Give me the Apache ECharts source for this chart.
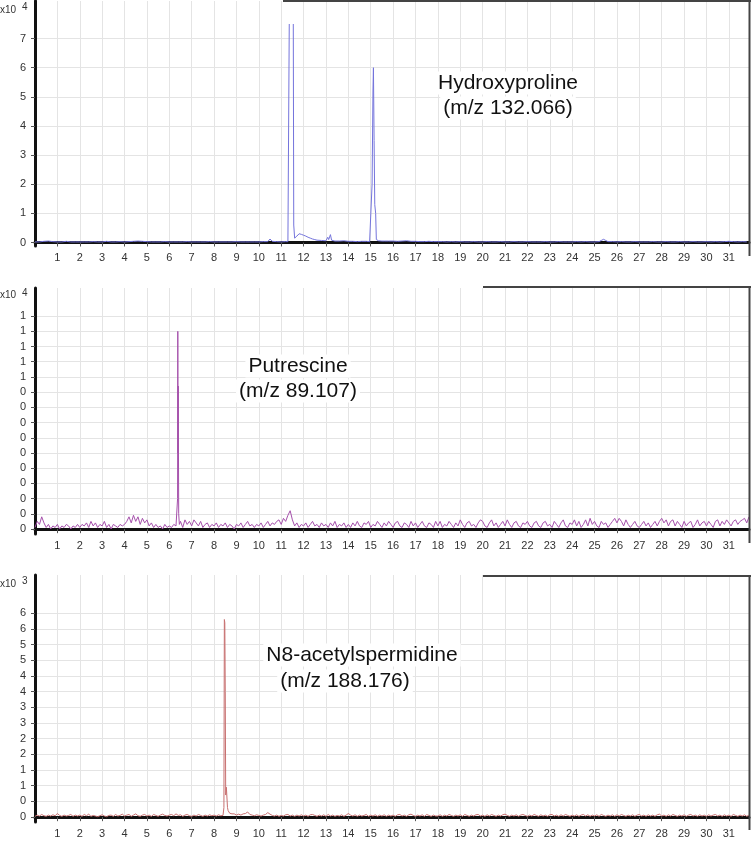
<!DOCTYPE html>
<html>
<head>
<meta charset="utf-8">
<script src="https://cdn.jsdelivr.net/npm/echarts@6/dist/echarts.min.js"></script>
<style>
html,body{margin:0;padding:0;background:#fff;}
#chart{width:751px;height:851px;}
</style>
</head>
<body>
<div id="chart"></div>
<script>
// ---------- x axis (retention time, min) ----------
const xTickValues = [1,2,3,4,5,6,7,8,9,10,11,12,13,14,15,16,17,18,19,20,21,22,23,24,25,26,27,28,29,30,31];

// ---------- Panel 1: Hydroxyproline (m/z 132.066), x10^4 ----------
const p1Step = 0.2;
const p1Base = [
0.02,0.02,0.04,0.05,0.03,0.02,0.02,0.04,0.02,0.02,0.02,0.02,0.02,0.03,0.02,0.02,0.04,0.02,0.02,0.03,
0.02,0.03,0.04,0.05,0.04,0.03,0.02,0.02,0.02,0.03,0.02,0.02,0.02,0.02,0.03,0.02,0.02,0.02,0.02,0.03,
0.02,0.02,0.02,0.02,0.02,0.03,0.02,0.02,0.02,0.02,0.02,0.03,0.03,0.03,0.03,0.02,0.03,0.03,0.03,0.03,
0.03,0.03,0.03,0.03,0.03,0.03,0.03,0.03,0.05,0.06,0.04,0.04,0.03,0.04,0.04,0.04,0.04,0.04,0.05,0.05,
0.05,0.04,0.05,0.06,0.04,0.04,0.03,0.03,0.04,0.03,0.03,0.03,0.02,0.03,0.02,0.03,0.02,0.02,0.03,0.02,
0.02,0.03,0.02,0.02,0.03,0.02,0.02,0.03,0.02,0.02,0.03,0.02,0.02,0.02,0.03,0.02,0.02,0.03,0.02,0.02,
0.02,0.03,0.02,0.03,0.02,0.02,0.03,0.03,0.03,0.03,0.02,0.03,0.02,0.02,0.03,0.02,0.02,0.02,0.03,0.02,
0.02,0.03,0.02,0.02,0.03,0.02,0.02,0.03,0.02,0.02,0.03,0.02,0.03,0.02,0.03,0.04,0.03,0.02,0.03,0.02
];
const p1PeakA = [[10.4,0.03],[10.5,0.12],[10.6,0.04]];
const p1PeakB = [[11.3,0.03],[11.34,0.05],[11.36,7.5],[11.37,'-'],[11.54,7.5],[11.56,0.6],[11.6,0.15],[11.7,0.22],[11.8,0.3],[11.9,0.28],[12.0,0.25],[12.1,0.22],[12.2,0.18],[12.3,0.15],[12.4,0.12],[12.5,0.1],[12.6,0.08],[12.8,0.07],[13.0,0.06],[13.08,0.18],[13.12,0.1],[13.2,0.27],[13.25,0.08],[13.4,0.05]];
const p1PeakC = [[14.95,0.03],[15.02,0.06],[15.06,2.0],[15.1,5.2],[15.12,6.0],[15.15,3.5],[15.18,1.3],[15.22,1.0],[15.25,0.1],[15.35,0.06],[15.5,0.05]];
const p1PeakD = [[25.2,0.03],[25.3,0.07],[25.4,0.11],[25.5,0.07],[25.6,0.03]];
const p1TickValues = [0,1,2,3,4,5,6,7];
const p1TickLabels = ['0','1','2','3','4','5','6','7'];

// ---------- Panel 2: Putrescine (m/z 89.107), x10^4 ----------
const p2Step = 0.1;
const p2Base = [
0.01,0.05,0.03,0.08,0.04,0.01,0.03,0.00,0.02,0.01,0.03,0.00,0.02,0.01,0.03,0.02,0.00,0.02,0.01,0.03,
0.01,0.03,0.02,0.04,0.01,0.05,0.02,0.04,0.01,0.03,0.02,0.05,0.01,0.03,0.00,0.03,0.02,0.01,0.03,0.02,
0.03,0.05,0.08,0.04,0.09,0.05,0.08,0.03,0.07,0.04,0.06,0.02,0.04,0.01,0.03,0.01,0.02,0.00,0.03,0.01,
0.02,0.01,0.03,0.02,0.03,0.05,0.01,0.06,0.03,0.05,0.02,0.06,0.04,0.02,0.05,0.01,0.03,0.04,0.01,0.03,
0.02,0.04,0.01,0.03,0.02,0.04,0.01,0.03,0.02,0.00,0.03,0.02,0.04,0.01,0.03,0.05,0.02,0.03,0.01,0.03,
0.02,0.04,0.01,0.03,0.05,0.02,0.04,0.03,0.05,0.06,0.03,0.07,0.05,0.09,0.12,0.06,0.02,0.04,0.01,0.03,
0.02,0.04,0.01,0.03,0.05,0.02,0.03,0.01,0.04,0.02,0.03,0.01,0.04,0.02,0.05,0.01,0.03,0.02,0.04,0.01,
0.03,0.01,0.04,0.02,0.05,0.02,0.01,0.04,0.03,0.05,0.01,0.03,0.02,0.05,0.03,0.01,0.04,0.02,0.05,0.03,
0.01,0.04,0.05,0.02,0.01,0.04,0.03,0.01,0.05,0.02,0.04,0.01,0.03,0.05,0.02,0.01,0.04,0.03,0.01,0.05,
0.02,0.05,0.01,0.03,0.02,0.05,0.03,0.01,0.04,0.02,0.06,0.03,0.01,0.04,0.05,0.02,0.03,0.01,0.04,0.06,
0.05,0.02,0.01,0.04,0.06,0.02,0.04,0.01,0.03,0.05,0.02,0.06,0.03,0.01,0.04,0.05,0.02,0.01,0.04,0.03,
0.05,0.02,0.01,0.04,0.05,0.02,0.01,0.04,0.05,0.02,0.03,0.01,0.05,0.03,0.01,0.04,0.06,0.02,0.01,0.04,
0.03,0.06,0.02,0.05,0.01,0.03,0.06,0.02,0.07,0.03,0.05,0.02,0.01,0.05,0.03,0.04,0.01,0.03,0.05,0.07,
0.04,0.07,0.05,0.02,0.06,0.03,0.01,0.03,0.05,0.02,0.01,0.03,0.05,0.02,0.04,0.01,0.03,0.05,0.02,0.05,
0.07,0.04,0.06,0.02,0.05,0.06,0.02,0.05,0.03,0.01,0.05,0.02,0.04,0.05,0.01,0.03,0.06,0.02,0.04,0.05,
0.02,0.05,0.03,0.01,0.05,0.06,0.02,0.05,0.03,0.06,0.04,0.02,0.05,0.06,0.03,0.05,0.06,0.07,0.04,0.08
];
const p2Peak = [[6.34,0.03],[6.37,0.2],[6.38,1.3],[6.39,0.5],[6.40,0.94],[6.42,0.1],[6.45,0.03]];
const p2TickValues = [0,0.1,0.2,0.3,0.4,0.5,0.6,0.7,0.8,0.9,1.0,1.1,1.2,1.3,1.4];
const p2TickLabels = ['0','0','0','0','0','0','0','0','0','0','1','1','1','1','1'];

// ---------- Panel 3: N8-acetylspermidine (m/z 188.176), x10^3 ----------
const p3Step = 0.1;
const p3Base = [
0.02,0.06,0.03,0.08,0.04,0.02,0.06,0.03,0.07,0.04,0.11,0.05,0.02,0.06,0.03,0.05,0.08,0.02,0.06,0.03,
0.06,0.02,0.08,0.04,0.09,0.02,0.05,0.03,0.01,0.04,0.07,0.03,0.01,0.05,0.06,0.02,0.08,0.03,0.05,0.09,
0.03,0.06,0.08,0.02,0.06,0.10,0.04,0.02,0.06,0.08,0.03,0.06,0.02,0.08,0.05,0.02,0.06,0.09,0.05,0.03,
0.06,0.08,0.04,0.10,0.05,0.07,0.02,0.06,0.08,0.04,0.02,0.06,0.03,0.08,0.05,0.02,0.06,0.03,0.07,0.04,
0.06,0.03,0.07,0.04,0.05,0.05,0.05,0.05,0.05,0.10,0.06,0.09,0.06,0.10,0.11,0.16,0.08,0.06,0.04,0.07,
0.05,0.03,0.06,0.08,0.14,0.09,0.05,0.03,0.06,0.02,0.05,0.03,0.07,0.08,0.03,0.06,0.02,0.06,0.03,0.07,
0.03,0.06,0.02,0.07,0.08,0.05,0.02,0.06,0.03,0.07,0.02,0.08,0.03,0.06,0.02,0.05,0.03,0.07,0.02,0.06,
0.11,0.06,0.03,0.07,0.02,0.06,0.03,0.05,0.08,0.02,0.06,0.03,0.07,0.02,0.06,0.03,0.07,0.02,0.06,0.03,
0.06,0.02,0.07,0.08,0.03,0.06,0.02,0.07,0.09,0.05,0.02,0.06,0.03,0.07,0.02,0.08,0.05,0.02,0.06,0.03,
0.03,0.07,0.02,0.06,0.03,0.08,0.05,0.02,0.06,0.03,0.07,0.02,0.08,0.05,0.02,0.06,0.03,0.07,0.08,0.03,
0.06,0.02,0.07,0.03,0.08,0.05,0.02,0.06,0.03,0.07,0.09,0.05,0.02,0.06,0.03,0.07,0.02,0.06,0.08,0.05,
0.02,0.06,0.03,0.08,0.05,0.02,0.07,0.03,0.06,0.02,0.07,0.08,0.03,0.06,0.02,0.07,0.03,0.08,0.05,0.02,
0.06,0.03,0.07,0.02,0.06,0.08,0.03,0.07,0.02,0.06,0.03,0.07,0.02,0.08,0.05,0.02,0.06,0.03,0.07,0.02,
0.07,0.03,0.08,0.05,0.02,0.06,0.03,0.07,0.02,0.06,0.08,0.03,0.06,0.02,0.07,0.03,0.06,0.02,0.07,0.09,
0.03,0.06,0.02,0.07,0.03,0.08,0.05,0.02,0.06,0.03,0.07,0.02,0.06,0.08,0.03,0.06,0.02,0.07,0.03,0.06,
0.02,0.07,0.03,0.06,0.08,0.03,0.06,0.02,0.07,0.03,0.06,0.02,0.08,0.05,0.02,0.06,0.03,0.07,0.02,0.06
];
const p3Peak = [[8.40,0.05],[8.44,0.3],[8.46,6.3],[8.48,6.2],[8.5,4.0],[8.52,0.7],[8.55,0.95],[8.58,0.9],[8.6,0.3],[8.63,0.2],[8.7,0.12],[8.8,0.1]];
const p3TickValues = [0,0.5,1,1.5,2,2.5,3,3.5,4,4.5,5,5.5,6,6.5];
const p3TickLabels = ['0','0','1','1','2','2','3','3','4','4','5','5','6','6'];

// ---------- build point lists (baseline samples + peak points) ----------
function build(base, step, peaks) {
  const pts = [];
  base.forEach((v, i) => {
    const t = +(i * step).toFixed(2);
    const inPeak = peaks.some(p => t >= p[0][0] && t <= p[p.length - 1][0]);
    if (!inPeak) pts.push([t, v]);
  });
  peaks.forEach(p => p.forEach(q => pts.push(q)));
  pts.sort((a, b) => a[0] - b[0]);
  return pts;
}
const s1 = build(p1Base, p1Step, [p1PeakA, p1PeakB, p1PeakC, p1PeakD]);
const s2 = build(p2Base, p2Step, [p2Peak]);
const s3 = build(p3Base, p3Step, [p3Peak]);

const FONT = '"Liberation Sans", Arial, sans-serif';
const gridColor = '#e4e4e4';

function xAxisFor(gi) {
  return {
    type: 'value', gridIndex: gi, min: 0, max: 31.9, interval: 1,
    axisLine: { show: true, lineStyle: { color: '#111', width: 3 } },
    axisTick: { show: true, length: 4, customValues: xTickValues, lineStyle: { color: '#555', width: 1 } },
    axisLabel: { customValues: xTickValues, color: '#333', fontSize: 11, fontFamily: FONT, margin: 6 },
    splitLine: { show: true, lineStyle: { color: gridColor, width: 1 } }
  };
}
function labelFor(values, labels) {
  return function (v) {
    for (let i = 0; i < values.length; i++) {
      if (Math.abs(values[i] - v) < 1e-6) return labels[i];
    }
    return '';
  };
}
function yAxisFor(gi, min, max, values, labels) {
  return {
    type: 'value', gridIndex: gi, min: min, max: max,
    axisLine: { show: true, lineStyle: { color: '#111', width: 3 } },
    axisTick: { show: true, length: 4, customValues: values, lineStyle: { color: '#555', width: 1 } },
    axisLabel: { customValues: values, formatter: labelFor(values, labels), color: '#333', fontSize: 11, fontFamily: FONT, margin: 9 },
    splitLine: { show: true, lineStyle: { color: gridColor, width: 1 } }
  };
}
function lineSeries(idx, data, color) {
  return {
    type: 'line', xAxisIndex: idx, yAxisIndex: idx, data: data,
    showSymbol: false, symbol: 'none', sampling: null, silent: true, animation: false,
    lineStyle: { color: color, width: 1 }
  };
}

const chart = echarts.init(document.getElementById('chart'), null, { renderer: 'canvas' });

const frameColor = '#444';
function hline(x1, x2, y) { return { type: 'line', z: 100, shape: { x1: x1, y1: y, x2: x2, y2: y }, style: { stroke: frameColor, lineWidth: 2 }, silent: true }; }
function vline(x, y1, y2) { return { type: 'line', z: 100, shape: { x1: x, y1: y1, x2: x, y2: y2 }, style: { stroke: frameColor, lineWidth: 2 }, silent: true }; }
function txt(x, y, s, size) {
  return { type: 'text', x: x, y: y, z: 90, silent: true,
    style: { text: s, fill: '#111', font: size + 'px ' + FONT, textAlign: 'center', textVerticalAlign: 'middle',
             backgroundColor: '#ffffff', padding: [1, 3] } };
}
function small(x, y, s, size) {
  return { type: 'text', x: x, y: y, silent: true,
    style: { text: s, fill: '#333', font: size + 'px ' + FONT, textAlign: 'left', textVerticalAlign: 'middle' } };
}

chart.setOption({
  animation: false,
  backgroundColor: '#ffffff',
  grid: [
    { left: 35, top: 1, width: 714, height: 245 },
    { left: 35, top: 288, width: 714, height: 246 },
    { left: 35, top: 575, width: 714, height: 247 }
  ],
  xAxis: [xAxisFor(0), xAxisFor(1), xAxisFor(2)],
  yAxis: [
    yAxisFor(0, -0.12, 8.29, p1TickValues, p1TickLabels),
    yAxisFor(1, -0.033, 1.585, p2TickValues, p2TickLabels),
    yAxisFor(2, -0.16, 7.72, p3TickValues, p3TickLabels)
  ],
  series: [
    lineSeries(0, s1, '#7474dc'),
    lineSeries(1, s2, '#a550ab'),
    lineSeries(2, s3, '#c87070')
  ],
  graphic: [
    hline(283, 751, 1), vline(749.5, 1, 256),
    hline(483, 751, 287), vline(749.5, 287, 543),
    hline(483, 751, 576), vline(749.5, 576, 830),
    small(0, 10, 'x10', 10), small(22, 7, '4', 10),
    small(0, 295, 'x10', 10), small(22, 293, '4', 10),
    small(0, 584, 'x10', 10), small(22, 581, '3', 10),
    txt(508, 83, 'Hydroxyproline', 21),
    txt(508, 108, '(m/z 132.066)', 21),
    txt(298, 366, 'Putrescine', 21),
    txt(298, 391, '(m/z 89.107)', 21),
    txt(362, 655, 'N8-acetylspermidine', 21),
    txt(345, 681, '(m/z 188.176)', 21)
  ]
});
</script>
</body>
</html>
